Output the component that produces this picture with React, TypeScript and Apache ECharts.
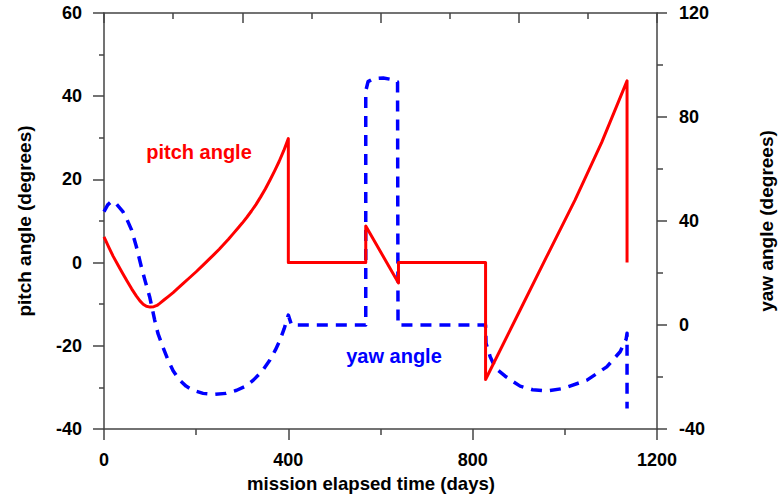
import React, { useEffect, useRef } from "react";
import * as echarts from "echarts";

const pitchDays = [0, 10, 20, 30, 40, 50, 60, 70, 78, 85, 92, 100, 108, 115, 121, 130, 140, 150, 160, 172, 185, 200, 215, 230, 240, 250, 260, 270, 280, 290, 300, 310, 320, 330, 340, 350, 360, 370, 380, 390, 400, 400, 568, 568, 639, 639, 828, 828, 903, 960, 1022, 1080, 1135, 1135];
const pitchDeg = [6.2, 3.8, 1.5, -0.5, -2.5, -4.4, -6.3, -8.0, -9.2, -10.0, -10.5, -10.7, -10.6, -10.3, -9.8, -9.0, -8.1, -7.2, -6.2, -5.0, -3.7, -2.2, -0.6, 1.0, 2.1, 3.2, 4.4, 5.6, 6.9, 8.2, 9.5, 10.9, 12.4, 14.0, 15.8, 17.7, 19.8, 22.0, 24.3, 26.9, 29.8, 0, 0, 8.8, -4.9, 0, 0, -28.1, -11.4, 1.3, 15.0, 28.9, 43.7, 0];

const yawDays = [0, 8, 16, 25, 41, 50, 60, 70, 81, 90, 99, 110, 117, 128, 139, 150, 164, 178, 193, 215, 240, 265, 288, 307, 324, 343, 360, 372, 382, 391, 400, 407, 568, 568, 573, 584, 606, 625, 637, 638, 828, 829, 838, 850, 870, 889, 903, 930, 961, 997, 1048, 1091, 1120, 1133, 1135, 1135];
const yawDeg = [43.6, 46.2, 47.5, 46.9, 43.6, 40.5, 36.5, 30.3, 22.4, 16.5, 10.9, 1.9, -3.2, -8.6, -13.5, -17.6, -21.2, -23.5, -25.1, -26.3, -26.7, -26.3, -25.1, -23.6, -21.2, -17.8, -13.5, -9.6, -5.8, -1.4, 3.8, 0, 0, 90, 93.6, 94.7, 95.0, 94.4, 93.5, 0, 0, -7, -12.2, -16.7, -19.6, -21.9, -23.5, -24.9, -25.4, -24.4, -21.2, -16.1, -10.3, -5.5, -3.2, -32.1];

const xTicks = { min: 0, max: 1200, interval: 400 };
const topTicks = { min: 0, max: 1200, interval: 300 };
const leftTicks = { min: -40, max: 60, interval: 20 };
const rightTicks = { min: -40, max: 120, interval: 40 };

const FONT = "'Liberation Sans', Arial, Helvetica, sans-serif";
const AXIS_COLOR = "#444";

export default function App() {
  const ref = useRef<HTMLDivElement>(null);
  useEffect(() => {
    if (!ref.current) return;
    const chart = echarts.init(ref.current, null, { renderer: "svg" });
    const labelStyle = { color: "#000", fontFamily: FONT, fontWeight: "bold" as const, fontSize: 18 };
    const nameStyle = { color: "#000", fontFamily: FONT, fontWeight: "bold" as const, fontSize: 18.6 };
    const axisLine = { show: true, onZero: false, lineStyle: { color: AXIS_COLOR, width: 1.5 } };
    const plain = (v: number) => String(v);
    chart.setOption({
      animation: false,
      backgroundColor: "#fff",
      grid: { left: 104, right: 121, top: 13, bottom: 65, containLabel: false, outerBoundsMode: "none" },
      xAxis: [
        {
          type: "value",
          position: "bottom",
          min: xTicks.min,
          max: xTicks.max,
          interval: xTicks.interval,
          axisLine,
          axisTick: { show: true, inside: false, length: 11, lineStyle: { color: AXIS_COLOR, width: 1.5 } },
          minorTick: { show: true, splitNumber: 2, length: 6, lineStyle: { color: AXIS_COLOR, width: 1.5 } },
          splitLine: { show: false },
          axisLabel: { ...labelStyle, margin: 22, formatter: plain },
          name: "mission elapsed time (days)",
          nameLocation: "middle",
          nameGap: 42,
          nameTextStyle: { ...nameStyle, padding: [0, 19, 0, 0] },
        },
        {
          type: "value",
          position: "top",
          min: topTicks.min,
          max: topTicks.max,
          interval: topTicks.interval,
          axisLine,
          axisTick: { show: true, inside: true, length: 10, lineStyle: { color: AXIS_COLOR, width: 1.5 } },
          minorTick: { show: true, splitNumber: 2, length: 6, lineStyle: { color: AXIS_COLOR, width: 1.5 } },
          splitLine: { show: false },
          axisLabel: { show: false },
        },
      ],
      yAxis: [
        {
          type: "value",
          position: "left",
          min: leftTicks.min,
          max: leftTicks.max,
          interval: leftTicks.interval,
          axisLine,
          axisTick: { show: true, inside: false, length: 11, lineStyle: { color: AXIS_COLOR, width: 1.5 } },
          minorTick: { show: true, splitNumber: 2, length: 5, lineStyle: { color: AXIS_COLOR, width: 1.5 } },
          splitLine: { show: false },
          axisLabel: { ...labelStyle, margin: 22, formatter: plain },
          name: "pitch angle (degrees)",
          nameLocation: "middle",
          nameRotate: 90,
          nameGap: 70,
          nameTextStyle: { ...nameStyle, fontSize: 19 },
        },
        {
          type: "value",
          position: "right",
          min: rightTicks.min,
          max: rightTicks.max,
          interval: rightTicks.interval,
          axisLine,
          axisTick: { show: true, inside: false, length: 10, lineStyle: { color: AXIS_COLOR, width: 1.5 } },
          minorTick: { show: true, splitNumber: 2, length: 6, lineStyle: { color: AXIS_COLOR, width: 1.5 } },
          splitLine: { show: false },
          axisLabel: { ...labelStyle, margin: 22, formatter: plain },
          name: "yaw angle (degrees)",
          nameLocation: "middle",
          nameRotate: 90,
          nameGap: 100,
          nameTextStyle: { ...nameStyle, fontSize: 19 },
        },
      ],
      series: [
        {
          name: "pitch angle",
          type: "line",
          xAxisIndex: 0,
          yAxisIndex: 0,
          showSymbol: false,
          symbol: "none",
          data: pitchDays.map((d, i) => [d, pitchDeg[i]]),
          lineStyle: { color: "#ff0000", width: 3, type: "solid", join: "round" },
          z: 3,
        },
        {
          name: "yaw angle",
          type: "line",
          xAxisIndex: 0,
          yAxisIndex: 1,
          showSymbol: false,
          symbol: "none",
          data: yawDays.map((d, i) => [d, yawDeg[i]]),
          lineStyle: { color: "#0000ff", width: 3.5, type: [11, 8], join: "round" },
          z: 2,
        },
      ],
      graphic: [
        {
          type: "text",
          x: 199,
          y: 152,
          style: {
            text: "pitch angle",
            fill: "#ff0000",
            font: `bold 20px ${FONT}`,
            textAlign: "center",
            textVerticalAlign: "middle",
          },
        },
        {
          type: "text",
          x: 394,
          y: 356,
          style: {
            text: "yaw angle",
            fill: "#0000ff",
            font: `bold 20px ${FONT}`,
            textAlign: "center",
            textVerticalAlign: "middle",
          },
        },
      ],
    });
    return () => chart.dispose();
  }, []);
  return (
    <div
      ref={ref}
      style={{ position: "absolute", left: 0, top: 0, width: 778, height: 494, background: "#fff" }}
    />
  );
}
